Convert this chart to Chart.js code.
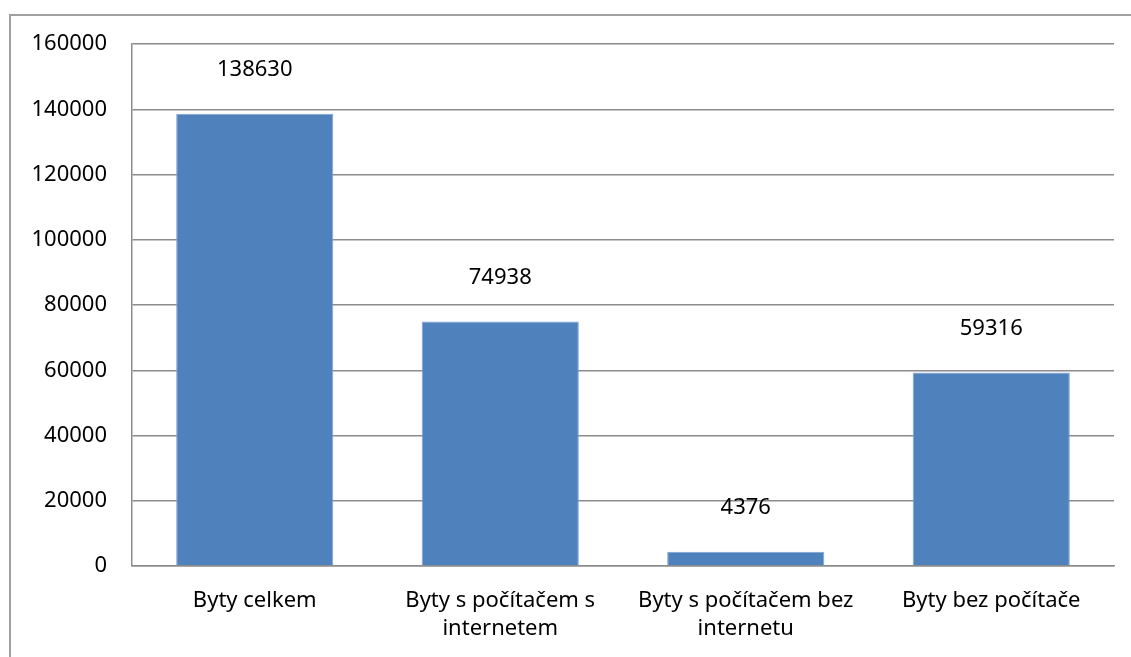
<!DOCTYPE html>
<html>
<head>
<meta charset="utf-8">
<script src="https://cdn.jsdelivr.net/npm/chart.js@4/dist/chart.umd.min.js"></script>
<style>
  html, body { margin: 0; padding: 0; background: #fff; }
  #wrap { position: relative; width: 1131px; height: 657px; overflow: hidden; }
  #frame { position: absolute; left: 9px; top: 14px; width: 1200px; height: 700px;
           border-left: 2px solid #a0a0a0; border-top: 2px solid #a0a0a0; }
  #coralChart { position: absolute; left: 0; top: 0; }
</style>
</head>
<body>
<div id="wrap">
  <div id="frame"></div>
  <canvas id="coralChart" width="1131" height="657"></canvas>
</div>
<script>
const categories = [
    'Byty celkem',
    ['Byty s počítačem s', 'internetem'],
    ['Byty s počítačem bez', 'internetu'],
    'Byty bez počítače'
];
const values = [138630, 74938, 4376, 59316];
const yTicks = [0, 20000, 40000, 60000, 80000, 100000, 120000, 140000, 160000];

const FONT = "'Noto Sans', 'Liberation Sans', sans-serif";

// Draw value labels above bars
const valueLabels = {
    id: 'valueLabels',
    afterDatasetsDraw(chart) {
        const ctx = chart.ctx;
        const meta = chart.getDatasetMeta(0);
        ctx.save();
        ctx.font = '22px ' + FONT;
        ctx.fillStyle = '#000';
        ctx.textAlign = 'center';
        ctx.textBaseline = 'middle';
        meta.data.forEach((bar, i) => {
            ctx.fillText(String(values[i]), bar.x, bar.y - 44);
        });
        ctx.restore();
    }
};

const ctx = document.getElementById('coralChart').getContext('2d');
new Chart(ctx, {
    type: 'bar',
    data: {
        labels: categories,
        datasets: [{
            data: values,
            backgroundColor: '#4F81BD',
            borderColor: '#7fa2d2',
            borderWidth: 1,
            barPercentage: 0.64,
            categoryPercentage: 1
        }]
    },
    options: {
        responsive: false,
        animation: false,
        layout: { padding: { left: 0, right: 17, top: 44, bottom: 0 } },
        plugins: {
            legend: { display: false },
            tooltip: { enabled: false }
        },
        scales: {
            x: {
                grid: { display: false },
                border: { display: true, color: '#8c8c8c', width: 1.5 },
                ticks: {
                    color: '#000',
                    font: { family: FONT, size: 22, lineHeight: 1.3 },
                    padding: 12,
                    maxRotation: 0,
                    autoSkip: false
                },
                afterFit(scale) { scale.height = 91; }
            },
            y: {
                min: 0,
                max: 160000,
                afterBuildTicks(scale) {
                    scale.ticks = yTicks.map(v => ({ value: v }));
                },
                grid: { color: '#8c8c8c', lineWidth: 1.5, drawTicks: false },
                border: { display: true, color: '#8c8c8c', width: 1.5 },
                ticks: {
                    color: '#000',
                    font: { family: FONT, size: 22 },
                    padding: 25,
                    callback: v => String(v)
                },
                afterFit(scale) { scale.width = 132; }
            }
        }
    },
    plugins: [valueLabels]
});
</script>
</body>
</html>
